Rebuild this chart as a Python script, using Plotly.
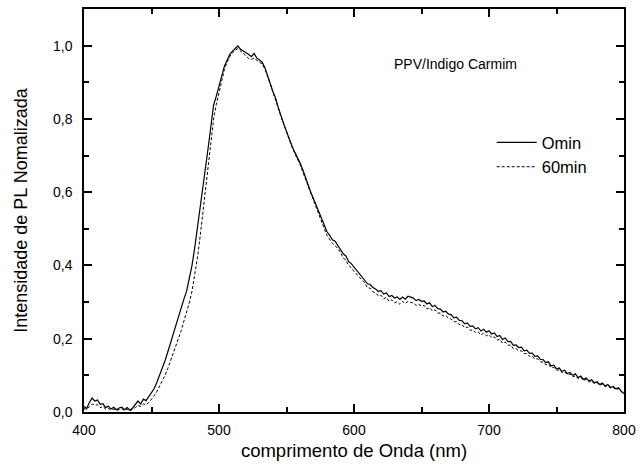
import numpy as np
import plotly.graph_objects as go

wavelength = list(range(400, 801, 2))

pl_0min = [
    0.015, 0.010, 0.026, 0.038, 0.030, 0.033, 0.021, 0.023, 0.012, 0.016, 0.008, 0.013, 0.006, 0.011, 0.013, 0.006, 0.012, 0.005, 0.011, 0.020, 0.030, 0.022, 0.035, 0.031, 0.042,
    0.050, 0.064, 0.081, 0.100, 0.118, 0.140, 0.163, 0.188, 0.210, 0.238, 0.262, 0.288, 0.308, 0.330, 0.362, 0.400, 0.448, 0.500, 0.556, 0.612, 0.668, 0.722, 0.780, 0.838, 0.862,
    0.890, 0.918, 0.944, 0.960, 0.976, 0.985, 0.992, 0.999, 0.990, 0.986, 0.980, 0.976, 0.970, 0.979, 0.966, 0.960, 0.955, 0.940, 0.920, 0.896, 0.874, 0.856, 0.830, 0.806, 0.786,
    0.766, 0.744, 0.727, 0.710, 0.697, 0.680, 0.662, 0.640, 0.622, 0.600, 0.582, 0.563, 0.546, 0.526, 0.510, 0.492, 0.482, 0.470, 0.466, 0.455, 0.446, 0.432, 0.426, 0.411, 0.405,
    0.396, 0.386, 0.379, 0.370, 0.362, 0.350, 0.348, 0.340, 0.336, 0.329, 0.331, 0.322, 0.325, 0.315, 0.318, 0.311, 0.314, 0.307, 0.314, 0.308, 0.316, 0.313, 0.311, 0.304, 0.307,
    0.302, 0.303, 0.295, 0.298, 0.288, 0.291, 0.282, 0.281, 0.273, 0.275, 0.267, 0.266, 0.257, 0.259, 0.250, 0.249, 0.241, 0.243, 0.234, 0.235, 0.227, 0.230, 0.221, 0.226, 0.218,
    0.222, 0.213, 0.216, 0.206, 0.209, 0.198, 0.202, 0.192, 0.193, 0.182, 0.183, 0.176, 0.177, 0.167, 0.169, 0.160, 0.161, 0.152, 0.153, 0.144, 0.143, 0.135, 0.137, 0.126, 0.128,
    0.118, 0.120, 0.111, 0.114, 0.105, 0.108, 0.100, 0.104, 0.094, 0.098, 0.089, 0.093, 0.085, 0.088, 0.080, 0.083, 0.075, 0.079, 0.071, 0.075, 0.067, 0.070, 0.063, 0.066, 0.057,
    0.050,
]

pl_60min = [
    0.010, 0.006, 0.015, 0.022, 0.018, 0.020, 0.012, 0.015, 0.008, 0.010, 0.005, 0.008, 0.004, 0.007, 0.009, 0.004, 0.008, 0.003, 0.007, 0.012, 0.018, 0.015, 0.022, 0.020, 0.026,
    0.034, 0.044, 0.056, 0.070, 0.086, 0.100, 0.118, 0.138, 0.160, 0.180, 0.200, 0.222, 0.248, 0.272, 0.298, 0.330, 0.370, 0.420, 0.478, 0.540, 0.600, 0.670, 0.740, 0.800, 0.840,
    0.872, 0.905, 0.935, 0.955, 0.970, 0.980, 0.988, 0.992, 0.985, 0.978, 0.972, 0.965, 0.962, 0.966, 0.960, 0.955, 0.950, 0.936, 0.918, 0.895, 0.872, 0.852, 0.828, 0.805, 0.784,
    0.762, 0.742, 0.724, 0.707, 0.692, 0.676, 0.656, 0.636, 0.616, 0.594, 0.575, 0.555, 0.538, 0.518, 0.500, 0.482, 0.472, 0.460, 0.455, 0.444, 0.436, 0.420, 0.415, 0.400, 0.394,
    0.384, 0.376, 0.366, 0.358, 0.352, 0.339, 0.338, 0.328, 0.325, 0.317, 0.319, 0.309, 0.313, 0.302, 0.306, 0.298, 0.301, 0.294, 0.302, 0.296, 0.302, 0.299, 0.298, 0.291, 0.294,
    0.289, 0.291, 0.281, 0.285, 0.276, 0.279, 0.270, 0.270, 0.262, 0.263, 0.256, 0.254, 0.246, 0.247, 0.238, 0.238, 0.230, 0.232, 0.223, 0.224, 0.217, 0.219, 0.210, 0.215, 0.208,
    0.211, 0.203, 0.205, 0.196, 0.199, 0.188, 0.191, 0.182, 0.183, 0.173, 0.173, 0.167, 0.167, 0.159, 0.160, 0.152, 0.152, 0.145, 0.145, 0.137, 0.136, 0.129, 0.130, 0.121, 0.122,
    0.114, 0.115, 0.108, 0.110, 0.102, 0.104, 0.096, 0.099, 0.091, 0.094, 0.086, 0.089, 0.082, 0.085, 0.077, 0.080, 0.073, 0.076, 0.069, 0.072, 0.065, 0.067, 0.061, 0.064, 0.055,
    0.048,
]

x_ticks = [400, 500, 600, 700, 800]
y_ticks = [0.0, 0.2, 0.4, 0.6, 0.8, 1.0]

FONT = "Arial, Liberation Sans, sans-serif"

fig = go.Figure()
fig.add_trace(go.Scatter(x=wavelength, y=pl_0min, mode="lines", name="Omin",
                         line=dict(color="black", width=1.2)))
fig.add_trace(go.Scatter(x=wavelength, y=pl_60min, mode="lines", name="60min",
                         line=dict(color="black", width=1, dash="3px,2px")))

axis_common = dict(
    showline=True, linecolor="black", linewidth=1.5, mirror="ticks",
    ticks="inside", ticklen=8, tickwidth=1.5, tickcolor="black",
    showgrid=False, zeroline=False,
    tickfont=dict(family=FONT, size=14, color="black"),
)

fig.update_layout(
    width=643, height=474,
    margin=dict(l=84, r=16, t=7, b=62),
    paper_bgcolor="white", plot_bgcolor="white",
    separators=",.",
    font=dict(family=FONT, color="black"),
    xaxis=dict(range=[400, 800], tickvals=x_ticks, ticklabelstandoff=4,
               minor=dict(dtick=50, ticks="inside", ticklen=5, tickwidth=1.5, tickcolor="black"),
               title=dict(text="comprimento de Onda (nm)", font=dict(family=FONT, size=18.5), standoff=8),
               **axis_common),
    yaxis=dict(range=[0, 1.1], tickvals=y_ticks, tickformat=".1f", ticklabelstandoff=7,
               minor=dict(dtick=0.1, ticks="inside", ticklen=5, tickwidth=1.5, tickcolor="black"),
               title=dict(text="Intensidade de PL Nomalizada", font=dict(family=FONT, size=18), standoff=21),
               **axis_common),
    legend=dict(x=0.755, y=0.712, xanchor="left", yanchor="top",
                bgcolor="rgba(0,0,0,0)", font=dict(family=FONT, size=16.5),
                tracegroupgap=0, itemwidth=40),
    showlegend=True,
)

fig.add_annotation(x=675, y=0.95, xref="x", yref="y", text="PPV/Indigo Carmim",
                   showarrow=False, font=dict(family=FONT, size=14, color="black"))

fig.write_html("out.html")
